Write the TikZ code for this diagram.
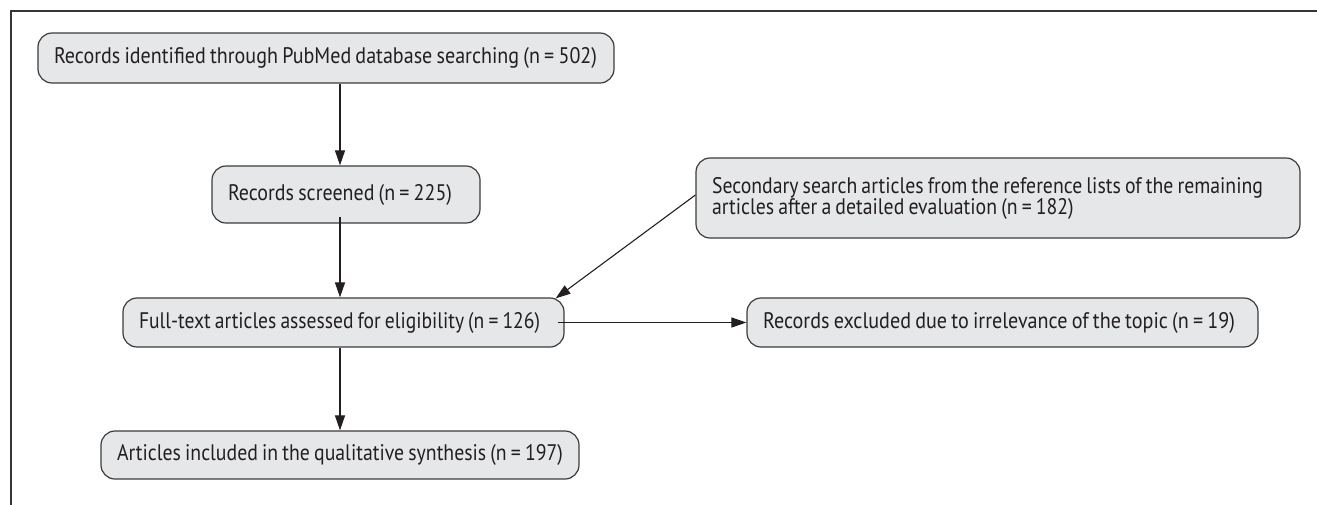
\documentclass[tikz,border=0pt]{standalone}
\usepackage{graphicx}
\usepackage{fontspec}
\setmainfont{PT Sans}
\usetikzlibrary{arrows.meta}
\definecolor{boxfill}{HTML}{E6E7E8}
\definecolor{ink}{HTML}{231F20}
\definecolor{edge}{HTML}{3C3C3C}
\newsavebox{\txtbox}
\newcommand\tightsp{\spaceskip=0.21em plus 0.1em minus 0.05em\relax}
\newcommand\fitw[2]{\sbox\txtbox{\tightsp #2}\edef\fitwd{\the\wd\txtbox}%
  \pgfmathsetmacro\fitfx{#1/\fitwd}\scalebox{\fitfx}[1]{\usebox\txtbox}}
\newcommand\fittwo[3]{\sbox\txtbox{\tightsp #2}\edef\fitwd{\the\wd\txtbox}%
  \pgfmathsetmacro\fitfx{#1/\fitwd}\scalebox{\fitfx}[1]{\usebox\txtbox}\\[0pt]%
  \scalebox{\fitfx}[1]{\tightsp #3}}
\tikzset{
  flowbox/.style={draw=edge, line width=1.2pt, fill=boxfill, rounded corners=14pt,
    inner xsep=16pt, inner ysep=0pt, align=left, text=ink,
    font=\fontsize{22.5}{21}\selectfont},
  arr/.style={draw=ink, line width=1.1pt, -{Triangle[length=15pt,width=10pt]}},
  frame/.style={draw=ink!90, line width=2.6pt}
}
\begin{document}
\begin{tikzpicture}[x=1pt,y=-1pt]
\useasboundingbox (0,0) rectangle (1317,504);
\draw[frame] (11,520) -- (11,11) -- (1330,11);
\coordinate (colx) at (340,0);
\node[flowbox, text width=544pt, minimum height=50pt] (b1) at (326,58)
  {\fitw{543}{Records identified through PubMed database searching (n = 502)}};
\node[flowbox, text width=236pt, minimum height=57pt] (b2) at (346,194.5)
  {\fitw{224}{Records screened (n = 225)}};
\node[flowbox, text width=409pt, minimum height=49pt] (b3) at (343.5,322.5)
  {\fitw{401}{Full-text articles assessed for eligibility (n = 126)}};
\node[flowbox, text width=572pt, minimum height=80pt] (b4) at (998,198)
  {\fittwo{551}{Secondary search articles from the reference lists of the remaining}{articles after a detailed evaluation (n = 182)}};
\node[flowbox, text width=479pt, minimum height=49pt] (b5) at (1002.5,322.5)
  {\fitw{472}{Records excluded due to irrelevance of the topic (n = 19)}};
\node[flowbox, text width=446pt, minimum height=48pt] (b6) at (340,455)
  {\fitw{446}{Articles included in the qualitative synthesis (n = 197)}};
\draw[arr] (b1.south -| colx) -- (b2.north -| colx);
\draw[arr, shorten <=-7pt] (b2.south -| colx) -- (b3.north -| colx);
\draw[arr] (b3.south -| colx) -- (b6.north -| colx);
\draw[arr, shorten <=-7pt] (b3.east) -- (b5.west);
\draw[arr] (b4.west) ++(0,-3) coordinate (b4s) (b4s) -- ([xshift=-9pt,yshift=-1pt]b3.north east);
\end{tikzpicture}
\end{document}
